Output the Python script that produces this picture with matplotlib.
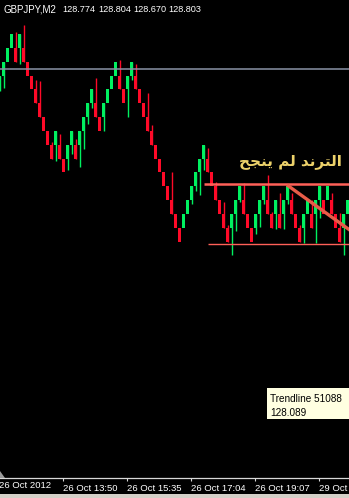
import matplotlib
matplotlib.use("Agg")
import matplotlib.pyplot as plt
from matplotlib.patches import Rectangle, Polygon

# ---------------- data ----------------
symbol = "GBPJPY,M2"
header_prices = ["128.774", "128.804", "128.670", "128.803"]

opens = [128.80, 128.85, 128.90, 128.95, 128.95, 128.95, 128.95, 128.90, 128.85, 128.80,
         128.75, 128.70, 128.65, 128.60, 128.60, 128.60, 128.55, 128.55, 128.60, 128.60,
         128.60, 128.65, 128.70, 128.75, 128.75, 128.70, 128.70, 128.75, 128.80, 128.85,
         128.85, 128.80, 128.80, 128.85, 128.85, 128.80, 128.75, 128.70, 128.65, 128.60,
         128.55, 128.50, 128.45, 128.40, 128.35, 128.30, 128.30, 128.35, 128.40, 128.45,
         128.50, 128.55, 128.55, 128.50, 128.45, 128.40, 128.35, 128.30, 128.30, 128.35,
         128.40, 128.40, 128.35, 128.30, 128.30, 128.35, 128.40, 128.40, 128.35, 128.35,
         128.35, 128.35, 128.40, 128.40, 128.35, 128.30, 128.30, 128.35, 128.35, 128.35,
         128.40, 128.40, 128.40, 128.40, 128.35, 128.30, 128.30, 128.35]
closes = [128.85, 128.90, 128.95, 129.00, 128.90, 129.00, 128.90, 128.85, 128.80, 128.75,
          128.70, 128.65, 128.60, 128.55, 128.65, 128.55, 128.50, 128.60, 128.65, 128.55,
          128.65, 128.70, 128.75, 128.80, 128.70, 128.65, 128.75, 128.80, 128.85, 128.90,
          128.80, 128.75, 128.85, 128.90, 128.80, 128.75, 128.70, 128.65, 128.60, 128.55,
          128.50, 128.45, 128.40, 128.35, 128.30, 128.25, 128.35, 128.40, 128.45, 128.50,
          128.55, 128.60, 128.50, 128.45, 128.40, 128.35, 128.30, 128.25, 128.35, 128.40,
          128.45, 128.35, 128.30, 128.25, 128.35, 128.40, 128.45, 128.35, 128.30, 128.40,
          128.30, 128.40, 128.45, 128.35, 128.30, 128.25, 128.35, 128.40, 128.30, 128.40,
          128.45, 128.35, 128.45, 128.35, 128.30, 128.25, 128.35, 128.40]
# wick extremes (None = no wick beyond the body)
highs = {4: 129.007, 6: 129.032, 9: 128.834, 10: 128.830, 13: 128.610, 15: 128.639,
         19: 128.621, 24: 128.841, 30: 128.906, 34: 128.892, 37: 128.787, 38: 128.671,
         43: 128.502, 52: 128.588, 54: 128.466, 56: 128.394, 57: 128.311, 61: 128.462,
         67: 128.491, 68: 128.357, 70: 128.426, 73: 128.426, 75: 128.311, 78: 128.401,
         83: 128.426, 85: 128.354}
lows = {0: 128.794, 1: 128.805, 5: 128.892, 14: 128.541, 17: 128.509, 18: 128.567,
        20: 128.520, 21: 128.585, 22: 128.675, 23: 128.733, 26: 128.650, 32: 128.700,
        33: 128.834, 48: 128.386, 49: 128.433, 50: 128.419, 51: 128.509, 58: 128.202,
        59: 128.289, 60: 128.394, 64: 128.278, 65: 128.303, 66: 128.386, 69: 128.296,
        71: 128.296, 72: 128.386, 76: 128.245, 79: 128.245, 80: 128.336, 82: 128.401,
        86: 128.202}

level_gray = 128.874
level_top = 128.458
level_bottom = 128.242
trend_x = [71.875, 90.0]
trend_y = [128.455, 128.267]

time_labels = ["26 Oct 2012", "26 Oct 13:50", "26 Oct 15:35", "26 Oct 17:04",
               "26 Oct 19:07", "29 Oct"]
time_ticks = [-0.125, 15.875, 31.875, 47.875, 63.875, 79.875]

annotation = "الترند لم ينجح"
tooltip_lines = ["Trendline 51088", "128.089"]

# ---------------- arabic shaping (presentation forms, visual order) ----------------
FORMS = {  # isolated, final, initial, medial
    'ا': (0xFE8D, 0xFE8E, None, None),
    'ل': (0xFEDD, 0xFEDE, 0xFEDF, 0xFEE0),
    'ت': (0xFE95, 0xFE96, 0xFE97, 0xFE98),
    'ر': (0xFEAD, 0xFEAE, None, None),
    'ن': (0xFEE5, 0xFEE6, 0xFEE7, 0xFEE8),
    'د': (0xFEA9, 0xFEAA, None, None),
    'م': (0xFEE1, 0xFEE2, 0xFEE3, 0xFEE4),
    'ي': (0xFEF1, 0xFEF2, 0xFEF3, 0xFEF4),
    'ج': (0xFE9D, 0xFE9E, 0xFE9F, 0xFEA0),
    'ح': (0xFEA1, 0xFEA2, 0xFEA3, 0xFEA4),
}

def shape(s):
    out = []
    for j, ch in enumerate(s):
        if ch not in FORMS:
            out.append(ch)
            continue
        prev = s[j - 1] if j > 0 else ''
        nxt = s[j + 1] if j + 1 < len(s) else ''
        jp = prev in FORMS and FORMS[prev][2] is not None
        jn = nxt in FORMS and FORMS[ch][2] is not None
        iso, fin, ini, med = FORMS[ch]
        if jp and jn:
            cp = med
        elif jp:
            cp = fin
        elif jn:
            cp = ini
        else:
            cp = iso
        out.append(chr(cp))
    return ''.join(reversed(out))

# ---------------- figure ----------------
W, H = 349, 498
fig = plt.figure(figsize=(W / 100, H / 100), dpi=100)
fig.patch.set_facecolor('black')
ax = fig.add_axes([0, 20 / H, 1, 478 / H])
ax.set_facecolor('black')
ax.set_xlim(0.125, 87.375)
ax.set_ylim(127.3971, 129.1227)

GREEN = '#00f060'
RED = '#ff0a28'
n = len(opens)
xs = list(range(n))
for i in xs:
    o, c = opens[i], closes[i]
    col = GREEN if c > o else RED
    hi = highs.get(i, max(o, c))
    lo = lows.get(i, min(o, c))
    if hi > max(o, c) or lo < min(o, c):
        ax.vlines(i, lo, hi, color=col, lw=1.0, zorder=2)
    ax.bar(i, abs(c - o), bottom=min(o, c), width=0.8, color=col, lw=0, zorder=3)

ax.axhline(level_gray, color='#8a93a6', lw=1.1, zorder=4)
ax.hlines(level_top, 51.125, 88, color='#ff6058', lw=1.8, zorder=5)
ax.hlines(level_bottom, 52.125, 88, color='#ff6058', lw=1.0, zorder=5)
ax.plot(trend_x, trend_y, color='#e85c48', lw=2.4, zorder=6, solid_capstyle='butt')

for side in ['top', 'left', 'right']:
    ax.spines[side].set_visible(False)
ax.spines['bottom'].set_color('#d8d8d8')
ax.spines['bottom'].set_linewidth(0.9)
ax.set_yticks([])
ax.set_xticks(time_ticks[1:], time_labels[1:])
ax.tick_params(axis='x', direction='out', length=2.5, width=0.8, colors='#d8d8d8',
               labelcolor='white', labelsize=6.8, pad=1.5)
for lab in ax.get_xticklabels():
    lab.set_ha('left')
    lab.set_family('Liberation Sans')
fig.text(-1 / W, 1 - 481 / H, time_labels[0], color='white', fontsize=6.8,
         family='Liberation Sans', ha='left', va='top')

# header
fig.text(3 / W, 1 - 12 / H, symbol, color='white', fontsize=7.0, family='Liberation Sans',
         ha='left', va='baseline')
for px, t in zip([62, 98, 133, 168], header_prices):
    fig.text(px / W, 1 - 12 / H, t, color='white', fontsize=6.6, family='Liberation Sans',
             ha='left', va='baseline')

# annotation
fig.text(290 / W, 1 - 161 / H, shape(annotation), color='#ecd16a', fontsize=11,
         family='DejaVu Sans', fontweight='bold', ha='center', va='center')

# tooltip
fig.patches.append(Rectangle((267 / W, 1 - 419 / H), 90 / W, 31 / H, transform=fig.transFigure,
                             facecolor='#ffffe1', edgecolor='none', zorder=10))
fig.text(270 / W, 1 - 402 / H, tooltip_lines[0], color='black', fontsize=7.2,
         family='Liberation Sans', ha='left', va='baseline', zorder=11)
fig.text(270 / W, 1 - 416 / H, tooltip_lines[1], color='black', fontsize=7.2,
         family='Liberation Sans', ha='left', va='baseline', zorder=11)

# chart-shift marker and window border
fig.patches.append(Polygon([(0, 1 - 471 / H), (0, 1 - 478 / H), (5 / W, 1 - 478 / H)],
                           closed=True, transform=fig.transFigure, facecolor='#9a9a9a',
                           edgecolor='none'))
fig.patches.append(Rectangle((0, 0), 1, 4 / H, transform=fig.transFigure,
                             facecolor='#d4d0c8', edgecolor='none'))

fig.savefig('out.png', dpi=100, facecolor='black')
